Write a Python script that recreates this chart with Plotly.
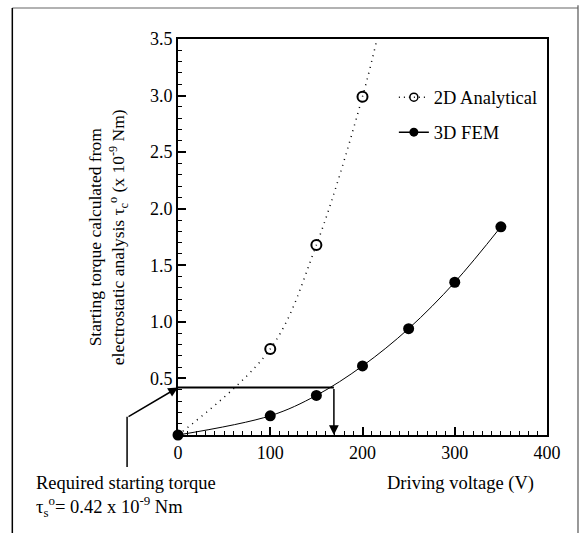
import plotly.graph_objects as go

# ---- data ----
fem_volt = [0, 100, 150, 200, 250, 300, 350]
fem_torque = [0.0, 0.17, 0.35, 0.61, 0.94, 1.35, 1.84]

ana_volt = [100, 150, 200]
ana_torque = [0.76, 1.68, 2.99]

# dotted analytical curve as drawn
ana_curve_volt = [0, 100, 150, 200, 220]
ana_curve_torque = [0.0, 0.76, 1.68, 2.99, 3.65]

required_torque = 0.42
required_volt = 169

x_ticks = [0, 100, 200, 300, 400]
y_ticks = [0.5, 1.0, 1.5, 2.0, 2.5, 3.0, 3.5]
y_tick_text = ["0.5", "1.0", "1.5", "2.0", "2.5", "3.0", "3.5"]

FONT = "Liberation Serif"

fig = go.Figure()

fig.add_trace(go.Scatter(x=ana_curve_volt, y=ana_curve_torque, mode="lines",
                         line=dict(color="black", width=1.5, dash="1px,5px", shape="spline"),
                         showlegend=False, hoverinfo="skip"))
fig.add_trace(go.Scatter(x=ana_volt, y=ana_torque, mode="markers",
                         marker=dict(symbol="circle-open", size=10, color="black",
                                     line=dict(width=2, color="black")),
                         showlegend=False, cliponaxis=False))
fig.add_trace(go.Scatter(x=fem_volt, y=fem_torque, mode="lines+markers",
                         line=dict(color="black", width=1, shape="spline"),
                         marker=dict(symbol="circle", size=11, color="black"),
                         showlegend=False, cliponaxis=False))

# legend entries
fig.add_trace(go.Scatter(x=[None], y=[None], mode="lines+markers", name="2D Analytical",
                         line=dict(color="black", width=1.5, dash="1px,4px"),
                         marker=dict(symbol="circle-open", size=8, color="black",
                                     line=dict(width=1.5, color="black")),
                         legendgroup="a"))
fig.add_trace(go.Scatter(x=[None], y=[None], mode="lines+markers", name="3D FEM",
                         line=dict(color="black", width=1.5),
                         marker=dict(symbol="circle", size=9, color="black"),
                         legendgroup="b"))

# required torque line and arrow down
fig.add_shape(type="line", x0=0, x1=required_volt, y0=required_torque, y1=required_torque,
              xref="x", yref="y", line=dict(color="black", width=2))
fig.add_annotation(x=required_volt, y=0, ax=required_volt, ay=required_torque,
                   xref="x", yref="y", axref="x", ayref="y", showarrow=True,
                   arrowhead=2, arrowsize=1.3, arrowwidth=1.5, arrowcolor="black", text="")

# pointer from the note to the y axis
fig.add_annotation(x=0, y=required_torque, xref="x", yref="y", ax=-51, ay=30,
                   showarrow=True, arrowhead=2, arrowsize=1.3, arrowwidth=1.5,
                   arrowcolor="black", text="")
fig.add_shape(type="line", xref="paper", yref="paper", x0=-0.138, x1=-0.138,
              y0=0.046, y1=-0.081, line=dict(color="black", width=1.5))

fig.add_annotation(xref="paper", yref="paper", x=-0.39, y=-0.09, xanchor="left", yanchor="top",
                   text="Required starting torque<br>τ<sub>s</sub><sup>o</sup>= 0.42 x 10<sup>-9</sup> Nm",
                   showarrow=False, align="left", font=dict(family=FONT, size=18.5, color="black"))

# axis titles as annotations
fig.add_annotation(xref="paper", yref="paper", x=0.765, y=-0.122, xanchor="center", yanchor="middle",
                   text="Driving voltage (V)", showarrow=False,
                   font=dict(family=FONT, size=18.5, color="black"))
fig.add_annotation(xref="paper", yref="paper", x=-0.192, y=0.5, xanchor="center", yanchor="middle",
                   textangle=-90,
                   text="Starting torque calculated from<br>electrostatic analysis τ<sub>c</sub><sup>o</sup> (x 10<sup>-9</sup> Nm)",
                   showarrow=False, font=dict(family=FONT, size=17.5, color="black"))

# outer frame
fig.add_shape(type="line", xref="paper", yref="paper", x0=-0.449, x1=1.084, y0=1.078, y1=1.078,
              line=dict(color="#999999", width=1.5))
fig.add_shape(type="line", xref="paper", yref="paper", x0=-0.449, x1=-0.449, y0=1.078, y1=-0.248,
              line=dict(color="black", width=1.5))
fig.add_shape(type="line", xref="paper", yref="paper", x0=1.084, x1=1.084, y0=1.085, y1=-0.248,
              line=dict(color="#555555", width=1.2))

fig.update_xaxes(range=[0, 400], tickvals=x_ticks, ticks="inside", ticklen=8, tickwidth=1.5,
                 tickcolor="black", showline=True, linecolor="black", linewidth=2, mirror=True,
                 showgrid=False, zeroline=False,
                 minor=dict(dtick=10, ticks="inside", ticklen=4, tickcolor="black", tickwidth=1),
                 tickfont=dict(family=FONT, size=18, color="black"))
fig.update_yaxes(range=[0, 3.5], tickvals=y_ticks, ticktext=y_tick_text, ticks="inside",
                 ticklen=8, tickwidth=1.5, tickcolor="black", showline=True, linecolor="black",
                 linewidth=2, mirror=True, showgrid=False, zeroline=False,
                 minor=dict(dtick=0.1, ticks="inside", ticklen=4, tickcolor="black", tickwidth=1),
                 tickfont=dict(family=FONT, size=18, color="black"))

fig.update_layout(width=584, height=533, plot_bgcolor="white", paper_bgcolor="white",
                  margin=dict(l=178, r=37, t=39, b=98),
                  legend=dict(x=0.585, y=0.9, xanchor="left", yanchor="top",
                              bgcolor="rgba(0,0,0,0)", tracegroupgap=8,
                              font=dict(family=FONT, size=18.5, color="black")),
                  showlegend=True)

fig.write_html("out.html", config={"displayModeBar": False},
               post_script="document.body.style.margin='0';document.body.style.overflow='hidden';")
